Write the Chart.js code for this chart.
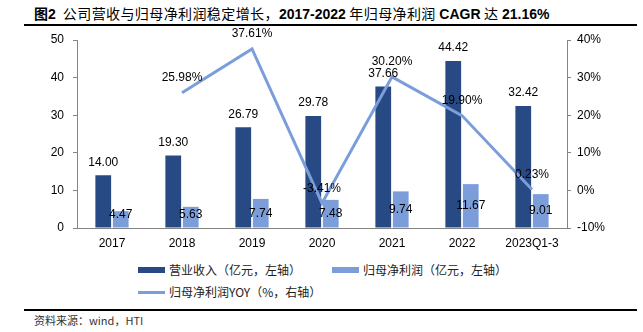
<!DOCTYPE html>
<html>
<head>
<meta charset="utf-8">
<script src="https://cdn.jsdelivr.net/npm/chart.js@4/dist/chart.umd.min.js"></script>
<style>
  body { margin: 0; background: #fff; width: 643px; height: 332px; position: relative; overflow: hidden; font-family: "Liberation Sans", Arial, sans-serif; }
  #title { position: absolute; left: 34px; top: 3px; font-size: 13px; font-family: "Liberation Sans", "Noto Sans CJK SC", sans-serif; color: #000; white-space: nowrap; }
  #title b { font-weight: bold; font-size: 14px; }
  #title .cn { font-family: "Noto Sans CJK SC", sans-serif; font-weight: normal; font-size: 14px; letter-spacing: 0.4px; }
  .rule { position: absolute; left: 24px; width: 613px; height: 2px; background: #000; }
  #wrap { position: absolute; left: 0; top: 0; width: 643px; height: 260px; }
  .legend { position: absolute; font-family: "Noto Sans CJK SC", sans-serif; font-size: 12px; color: #222; white-space: nowrap; line-height: 16px; }
  .sw { position: absolute; left: 0; width: 27px; }
  .legend span.txt { position: absolute; left: 31px; top: 0; }
  #source { position: absolute; left: 34px; top: 312px; font-family: "Noto Sans CJK SC", sans-serif; font-size: 11px; color: #333; white-space: nowrap; }
</style>
</head>
<body>
<div id="title"><b>图2</b><span class="cn">&nbsp;&nbsp;公司营收与归母净利润稳定增长，</span><b>2017-2022</b><span class="cn"> 年归母净利润 </span><b>CAGR</b><span class="cn"> 达 </span><b>21.16%</b></div>
<div class="rule" style="top:24px"></div>
<div id="wrap"><canvas id="chart"></canvas></div>

<div class="legend" style="left:138px; top:262px; width:200px; height:16px;">
  <div class="sw" style="top:5px; height:6px; background:#274a84"></div><span class="txt">营业收入（亿元，左轴）</span>
</div>
<div class="legend" style="left:332px; top:262px; width:200px; height:16px;">
  <div class="sw" style="top:5px; height:6px; background:#7b9edb"></div><span class="txt">归母净利润（亿元，左轴）</span>
</div>
<div class="legend" style="left:138px; top:284px; width:200px; height:16px;">
  <div class="sw" style="top:7px; height:3px; background:#7b9edb"></div><span class="txt">归母净利润YOY（%，右轴）</span>
</div>

<div class="rule" style="top:309px"></div>
<div id="source">资料来源：wind，HTI</div>

<script>
const years = ["2017", "2018", "2019", "2020", "2021", "2022", "2023Q1-3"];
const revenue = [14.00, 19.30, 26.79, 29.78, 37.66, 44.42, 32.42];
const netProfit = [4.47, 5.63, 7.74, 7.48, 9.74, 11.67, 9.01];
const profitYoy = [null, 25.98, 37.61, -3.41, 30.20, 19.90, 0.23];
const leftTicks = [0, 10, 20, 30, 40, 50];
const rightTicks = [-10, 0, 10, 20, 30, 40];

const darkBlue = "#274a84";
const lightBlue = "#7b9edb";
const axisColor = "#858585";
const labelFont = "12px 'Liberation Sans', Arial, sans-serif";

// value labels: above revenue bars, inside profit bars, above line points
const valueLabels = {
  id: "valueLabels",
  afterDatasetsDraw(chart) {
    const ctx = chart.ctx;
    ctx.save();
    ctx.font = labelFont;
    ctx.fillStyle = "#000";
    ctx.textAlign = "center";
    ctx.textBaseline = "middle";
    chart.getDatasetMeta(0).data.forEach((bar, i) => {
      ctx.fillText(revenue[i].toFixed(2), bar.x, bar.y - 13);
    });
    chart.getDatasetMeta(1).data.forEach((bar, i) => {
      const mid = (bar.y + bar.base) / 2;
      ctx.fillText(netProfit[i].toFixed(2), bar.x, Math.min(mid, bar.base - 13));
    });
    chart.getDatasetMeta(2).data.forEach((pt, i) => {
      if (profitYoy[i] === null) return;
      ctx.fillText(profitYoy[i].toFixed(2) + "%", pt.x, pt.y - 15);
    });
    ctx.restore();
  }
};

new Chart(document.getElementById("chart"), {
  type: "bar",
  data: {
    labels: years,
    datasets: [
      {
        label: "营业收入（亿元，左轴）",
        data: revenue,
        backgroundColor: darkBlue,
        yAxisID: "y",
        order: 1,
        categoryPercentage: 0.5,
        barPercentage: 0.9
      },
      {
        label: "归母净利润（亿元，左轴）",
        data: netProfit,
        backgroundColor: lightBlue,
        yAxisID: "y",
        order: 1,
        categoryPercentage: 0.5,
        barPercentage: 0.9
      },
      {
        type: "line",
        label: "归母净利润YOY（%，右轴）",
        data: profitYoy,
        borderColor: lightBlue,
        borderWidth: 3,
        pointRadius: 0,
        tension: 0,
        yAxisID: "y1",
        order: 0
      }
    ]
  },
  options: {
    responsive: true,
    maintainAspectRatio: false,
    animation: false,
    layout: { padding: { top: 40, left: 0, right: 0, bottom: 0 } },
    plugins: {
      legend: { display: false },
      tooltip: { enabled: false }
    },
    scales: {
      x: {
        grid: { display: false, drawTicks: false },
        border: { color: axisColor, width: 1 },
        ticks: { color: "#000", font: { size: 12, family: "'Liberation Sans', Arial" }, padding: 8 },
        afterFit: s => { s.height = 32; }
      },
      y: {
        position: "left",
        min: 0,
        max: 50,
        afterBuildTicks: s => { s.ticks = leftTicks.map(v => ({ value: v })); },
        grid: { drawOnChartArea: false, drawTicks: true, tickLength: 4, color: axisColor },
        border: { color: axisColor, width: 1 },
        ticks: { color: "#000", font: { size: 12, family: "'Liberation Sans', Arial" }, padding: 9 },
        afterFit: s => { s.width = 77; }
      },
      y1: {
        position: "right",
        min: -10,
        max: 40,
        afterBuildTicks: s => { s.ticks = rightTicks.map(v => ({ value: v })); },
        grid: { drawOnChartArea: false, drawTicks: true, tickLength: 4, color: axisColor },
        border: { color: axisColor, width: 1 },
        ticks: {
          color: "#000",
          font: { size: 12, family: "'Liberation Sans', Arial" },
          padding: 6,
          callback: v => v + "%"
        },
        afterFit: s => { s.width = 76; }
      }
    }
  },
  plugins: [valueLabels]
});
</script>
</body>
</html>
